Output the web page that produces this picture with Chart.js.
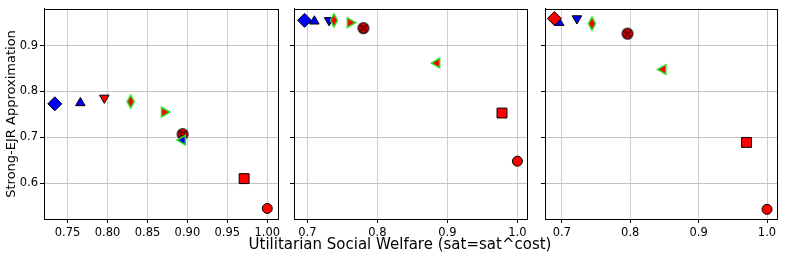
<!DOCTYPE html>
<html>
<head>
<meta charset="utf-8">
<script src="https://cdn.jsdelivr.net/npm/chart.js@4.4.0/dist/chart.umd.min.js"></script>
<style>
  body { margin: 0; background: #fff; width: 785px; height: 262px; overflow: hidden; position: relative; font-family: "DejaVu Sans"; }
  canvas { position: absolute; left: 0; top: 0; }
  #xtitle { position: absolute; left: 0; width: 800px; top: 235px; text-align: center; font-size: 15px; color: #000; }
</style>
</head>
<body>
<canvas id="p1" width="785" height="262"></canvas>
<canvas id="p2" width="785" height="262"></canvas>
<canvas id="p3" width="785" height="262"></canvas>
<div id="xtitle">Utilitarian Social Welfare (sat=sat^cost)</div>
<script>
// series order (later ones drawn on top)
const series = ["triUp", "diamond", "triDown", "thinDiamond", "triRight", "circleX", "triLeft", "square", "circle"];

const panel1X = [0.766, 0.734, 0.796, 0.829, 0.871, 0.894, 0.894, 0.971, 1.0];
const panel1Y = [0.775, 0.773, 0.786, 0.778, 0.755, 0.707, 0.694, 0.610, 0.545];
const panel2X = [0.710, 0.696, 0.731, 0.738, 0.761, 0.780, 0.885, 0.978, 1.0];
const panel2Y = [0.953, 0.955, 0.955, 0.955, 0.950, 0.938, 0.862, 0.753, 0.648];
const panel3X = [0.696, 0.689, 0.722, 0.744, null, 0.796, 0.848, 0.970, 1.0];
const panel3Y = [0.950, 0.959, 0.959, 0.948, null, 0.926, 0.848, 0.689, 0.543];

const yTicks = [0.6, 0.7, 0.8, 0.9];

const BLUE = "#0000ff", RED = "#ff0000", GREEN = "#22e022", BLACK = "#000000";

function thinDiamond(fill, edge) {
  const c = document.createElement("canvas");
  c.width = 12; c.height = 18;
  const g = c.getContext("2d");
  g.beginPath();
  g.moveTo(6, 2.5); g.lineTo(9.5, 9); g.lineTo(6, 15.5); g.lineTo(2.5, 9); g.closePath();
  g.fillStyle = fill; g.fill();
  g.lineWidth = 1.5; g.strokeStyle = edge; g.stroke();
  return c;
}

function circleX() {
  const c = document.createElement("canvas");
  c.width = 14; c.height = 14;
  const g = c.getContext("2d");
  g.beginPath(); g.arc(7, 7, 5.3, 0, Math.PI * 2);
  g.fillStyle = RED; g.fill();
  g.lineWidth = 1.2; g.strokeStyle = BLACK; g.stroke();
  g.beginPath();
  g.moveTo(4, 4); g.lineTo(10, 10); g.moveTo(10, 4); g.lineTo(4, 10);
  g.lineWidth = 2.2; g.strokeStyle = BLACK; g.stroke();
  g.lineWidth = 0.9; g.strokeStyle = RED; g.stroke();
  return c;
}

// marker look per series, fills per panel
function styleFor(name, panel) {
  switch (name) {
    case "triUp": return { pointStyle: "triangle", pointRotation: 0, pointRadius: 5.5, bg: BLUE, edge: BLACK, bw: 1 };
    case "diamond": return { pointStyle: "rectRot", pointRadius: 7, bg: panel === 3 ? RED : BLUE, edge: BLACK, bw: 1 };
    case "triDown": return { pointStyle: "triangle", pointRotation: 180, pointRadius: 5.5, bg: panel === 1 ? RED : BLUE, edge: BLACK, bw: 1 };
    case "thinDiamond": return { pointStyle: thinDiamond(RED, GREEN), pointRadius: 6 };
    case "triRight": return { pointStyle: "triangle", pointRotation: 90, pointRadius: 5.5, bg: RED, edge: GREEN, bw: 1.5 };
    case "circleX": return { pointStyle: circleX(), pointRadius: 6 };
    case "triLeft": return { pointStyle: "triangle", pointRotation: -90, pointRadius: 5.5, bg: panel === 1 ? BLUE : RED, edge: GREEN, bw: 1.5 };
    case "square": return { pointStyle: "rect", pointRadius: 7, bg: RED, edge: BLACK, bw: 1 };
    case "circle": return { pointStyle: "circle", pointRadius: 5, bg: RED, edge: BLACK, bw: 1 };
  }
}

const frame = {
  id: "frame",
  afterDraw(chart) {
    const a = chart.chartArea, g = chart.ctx;
    g.save();
    g.strokeStyle = BLACK; g.lineWidth = 1;
    g.strokeRect(Math.round(a.left) + 0.5, Math.round(a.top) + 0.5, Math.round(a.right - a.left), Math.round(a.bottom - a.top));
    g.restore();
  }
};

function makePanel(id, panel, xs, ys, xMin, xMax, xStep, dec, padLeft, padRight, yWidth, showY) {
  const datasets = [];
  series.forEach((name, i) => {
    if (xs[i] === null) return;
    const s = styleFor(name, panel);
    datasets.push({
      label: name,
      data: [{ x: xs[i], y: ys[i] }],
      pointStyle: s.pointStyle,
      pointRotation: s.pointRotation || 0,
      pointRadius: s.pointRadius,
      pointBackgroundColor: s.bg || RED,
      pointBorderColor: s.edge || BLACK,
      pointBorderWidth: s.bw || 0,
      order: series.length - i
    });
  });

  new Chart(document.getElementById(id).getContext("2d"), {
    type: "scatter",
    data: { datasets: datasets },
    plugins: [frame],
    options: {
      responsive: false,
      animation: false,
      devicePixelRatio: 1,
      events: [],
      layout: { padding: { left: padLeft, right: padRight, top: 5, bottom: 0 } },
      plugins: { legend: { display: false }, tooltip: { enabled: false } },
      scales: {
        x: {
          type: "linear",
          min: xMin, max: xMax,
          afterFit: (s) => { s.height = 43; },
          ticks: {
            stepSize: xStep, includeBounds: false, maxRotation: 0, padding: 3,
            color: BLACK, font: { family: "DejaVu Sans", size: 11.5 },
            callback: (v) => v.toFixed(dec)
          },
          grid: { color: "#cfcfcf", lineWidth: 1, tickLength: 4, tickColor: BLACK },
          border: { color: BLACK }
        },
        y: {
          type: "linear",
          min: 0.522, max: 0.98,
          afterFit: (s) => { s.width = yWidth; },
          afterBuildTicks: (s) => { s.ticks = yTicks.map(v => ({ value: v })); },
          ticks: {
            padding: 2, color: BLACK, font: { family: "DejaVu Sans", size: 11.5 },
            callback: (v) => showY ? v.toFixed(1) : ""
          },
          title: {
            display: showY, text: "Strong-EJR Approximation", color: BLACK,
            font: { family: "DejaVu Sans", size: 13 }, padding: { top: 4, bottom: 2 }
          },
          grid: { color: "#c4c4c4", lineWidth: 1, tickLength: 4, tickColor: BLACK },
          border: { color: BLACK }
        }
      }
    }
  });
}

makePanel("p1", 1, panel1X, panel1Y, 0.7205, 1.0134, 0.05, 2, 0, 507, 44, true);
makePanel("p2", 2, panel2X, panel2Y, 0.6809, 1.0137, 0.1, 1, 288, 258, 6, false);
makePanel("p3", 3, panel3X, panel3Y, 0.6753, 1.0146, 0.1, 1, 539, 7, 6, false);
</script>
</body>
</html>
